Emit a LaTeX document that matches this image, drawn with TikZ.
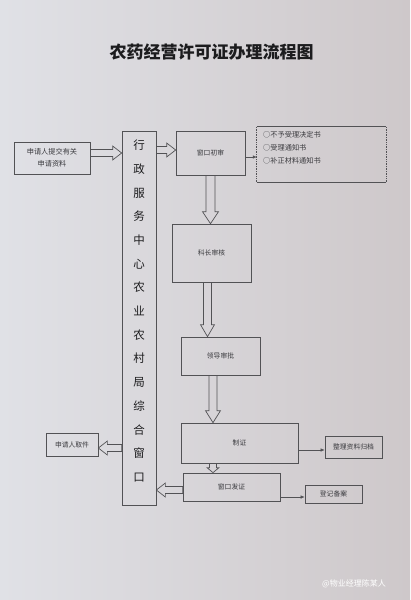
\documentclass[tikz,border=0pt]{standalone}
\usepackage{fontspec}
\setmainfont{Noto Sans CJK SC}
\usetikzlibrary{calc,arrows.meta}
\definecolor{bgl}{RGB}{224,225,230}
\definecolor{bgr}{RGB}{206,200,202}
\definecolor{linec}{RGB}{82,82,85}
\definecolor{txtc}{RGB}{58,58,62}
\definecolor{titlec}{RGB}{28,28,30}
% hollow block arrows: #1 start, #2 target, #3 shaft half width, #4 head half width, #5 head length
\newcommand\hollowRight[5]{\draw[hollow] let \p1=(#1), \p2=(#2) in
  (\x1,\y1+#3) -- (\x2-#5,\y1+#3) -- (\x2-#5,\y1+#4) -- (\x2,\y1) -- (\x2-#5,\y1-#4) -- (\x2-#5,\y1-#3) -- (\x1,\y1-#3) -- cycle;}
\newcommand\hollowLeft[5]{\draw[hollow] let \p1=(#1), \p2=(#2) in
  (\x1,\y1+#3) -- (\x2+#5,\y1+#3) -- (\x2+#5,\y1+#4) -- (\x2,\y1) -- (\x2+#5,\y1-#4) -- (\x2+#5,\y1-#3) -- (\x1,\y1-#3) -- cycle;}
\newcommand\hollowDown[5]{\draw[hollow] let \p1=(#1), \p2=(#2) in
  (\x1-#3,\y1) -- (\x1-#3,\y2+#5) -- (\x1-#4,\y2+#5) -- (\x1,\y2) -- (\x1+#4,\y2+#5) -- (\x1+#3,\y2+#5) -- (\x1+#3,\y1) -- cycle;}
\begin{document}
\begin{tikzpicture}[x=1pt,y=-1pt,
  box/.style={draw=linec, line width=0.7pt, inner sep=0pt, align=center, text=txtc,
    font=\fontsize{6.8}{10}\selectfont},
  hollow/.style={draw=linec, line width=0.7pt, line join=miter},
  thinarrow/.style={draw=linec, line width=0.6pt, -{Latex[length=4pt,width=3.5pt]}}]
\useasboundingbox (0,0) rectangle (410,600);
\shade[left color=bgl, right color=bgr] (0,0) rectangle (410,600);

\node[text=titlec, font=\fontsize{17}{17}\selectfont\bfseries] (title) at (211.5,52) {农药经营许可证办理流程图};

\node[box, minimum width=76pt, minimum height=32pt, font=\fontsize{7.2}{12}\selectfont] (req) at (52,158) {申请人提交有关\\申请资料};
\node[box, minimum width=34pt, minimum height=374pt] (col) at (139,318) {};
\node[text=titlec, align=center, inner sep=0pt, font=\fontsize{11.5}{23.7}\selectfont] (coltext) at (139,311)
  {行\\政\\服\\务\\中\\心\\农\\业\\农\\村\\局\\综\\合\\窗\\口};
\node[box, minimum width=69pt, minimum height=44pt] (init) at (210.5,153) {窗口初审};
\node[inner sep=0pt, minimum width=129pt, minimum height=55pt] (opts) at (321.5,154.5) {};
\draw[linec, line width=0.7pt] (opts.north west) -- (opts.north east) (opts.south west) -- (opts.south east);
\draw[linec, line width=0.7pt, densely dotted] (opts.north west) -- (opts.south west) (opts.north east) -- (opts.south east);
\node[anchor=north west, align=left, inner sep=0pt, text=txtc, font=\fontsize{7.2}{13}\selectfont] (optstext) at (263,131)
  {○不予受理决定书\\○受理通知书\\○补正材料通知书};
\node[box, minimum width=79pt, minimum height=58pt] (chief) at (211.5,253) {科长审核};
\node[box, minimum width=79pt, minimum height=38pt] (lead) at (220.5,356) {领导审批};
\node[box, minimum width=117pt, minimum height=40pt] (make) at (239.5,443) {制证};
\node[box, minimum width=57pt, minimum height=22pt] (arch) at (353.5,447) {整理资料归档};
\node[box, minimum width=97pt, minimum height=28pt] (issue) at (231.5,487) {窗口发证};
\node[box, minimum width=57pt, minimum height=18pt] (reg) at (333.5,494) {登记备案};
\node[box, minimum width=52pt, minimum height=23pt] (pick) at (72,444.5) {申请人取件};

\node[text=white, inner sep=0pt, font=\fontsize{8}{8}\selectfont] (mark) at (354,584) {@物业经理陈某人};

% hollow arrows
\coordinate (a0) at ([yshift=5pt]req.east);
\hollowRight{a0}{col.west}{3.5pt}{7pt}{9pt}
\coordinate (a1) at ([yshift=3pt]init.west);
\hollowRight{col.east |- a1}{a1}{3.5pt}{7pt}{9pt}
\hollowDown{init.south}{chief.north}{4.5pt}{8pt}{12pt}
\coordinate (a4) at ([xshift=-4pt]chief.south);
\hollowDown{a4}{chief.south |- lead.north}{4pt}{7pt}{12pt}
\coordinate (a5) at ([xshift=-7.5pt]lead.south);
\hollowDown{a5}{make.north}{4pt}{7.5pt}{12pt}
\coordinate (a6) at ([xshift=-26.5pt]make.south);
\hollowDown{a6}{issue.north}{3.5pt}{6pt}{5pt}
\coordinate (a2) at ([yshift=-3pt]issue.west);
\hollowLeft{a2}{col.east}{3.5pt}{7pt}{9pt}
\coordinate (a3) at ([yshift=-3.5pt]pick.east);
\hollowLeft{col.west |- a3}{a3}{3.5pt}{7pt}{9pt}

% thin arrows
\draw[thinarrow] ([yshift=-4pt]init.east) -- ([yshift=-4pt]init.east -| opts.west);
\draw[thinarrow] ([yshift=-7pt]make.east) -- ([yshift=-7pt]make.east -| arch.west);
\draw[thinarrow] ([yshift=-10pt]issue.east) -- ([yshift=-10pt]issue.east -| reg.west);
\end{tikzpicture}
\end{document}
